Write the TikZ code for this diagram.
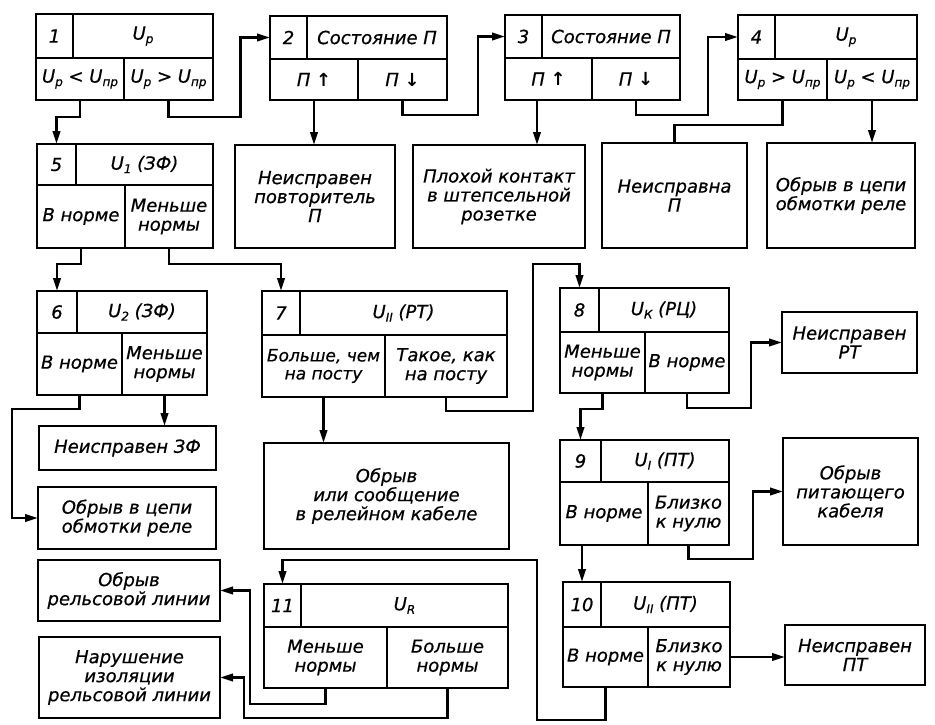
\documentclass[tikz,border=0pt]{standalone}
\usepackage{fontspec}
\setmainfont{DejaVu Sans}[ItalicFeatures={FakeBold=0.6}]
\usetikzlibrary{arrows.meta}
\newcommand\subx[1]{\raisebox{-0.35ex}{\fontsize{12}{12}\selectfont #1}}
\newcommand\uparr{{\bfseries\upshape ↑}}
\newcommand\dnarr{{\bfseries\upshape ↓}}
\newcommand\cellat[6]{\node[cell,minimum width={(#4)-(#2)},minimum height={(#5)-(#3)},anchor=north west] (#1) at (#2,#3) {#6};}
\tikzset{
  cell/.style={draw,line width=2.2pt,inner sep=0pt,outer sep=0pt,align=center,
    font=\itshape\fontsize{18}{19}\selectfont},
  small/.style={font=\itshape\fontsize{17}{18}\selectfont},
  conn/.style={line width=2.4pt},
  arr/.style={conn,-{Triangle[length=13pt,width=7.5pt]}}
}
\begin{document}
\begin{tikzpicture}[x=1pt,y=-1pt]
\useasboundingbox[fill=white] (0,0) rectangle (935,725);
% box 1
\cellat{b1n}{36}{14}{73}{58}{1}
\cellat{b1h}{73}{14}{213}{58}{U\subx{р}}
\cellat{b1l}{36}{58}{124}{100}{U\subx{р} < U\subx{пр}}
\cellat{b1r}{124}{58}{213}{100}{U\subx{р} > U\subx{пр}}
% box 2
\cellat{b2n}{270}{16}{307}{59}{2}
\cellat{b2h}{307}{16}{447}{59}{Состояние П}
\cellat{b2l}{270}{59}{358}{100}{П \uparr}
\cellat{b2r}{358}{59}{447}{100}{П \dnarr}
% box 3
\cellat{b3n}{505}{15}{542}{58}{3}
\cellat{b3h}{542}{15}{680}{58}{Состояние П}
\cellat{b3l}{505}{58}{592}{100}{П \uparr}
\cellat{b3r}{592}{58}{680}{100}{П \dnarr}
% box 4
\cellat{b4n}{738}{15}{775}{59}{4}
\cellat{b4h}{775}{15}{917}{59}{U\subx{р}}
\cellat{b4l}{738}{59}{827}{100}{U\subx{р} > U\subx{пр}}
\cellat{b4r}{827}{59}{917}{100}{U\subx{р} < U\subx{пр}}
% box 5
\cellat{b5n}{37}{144}{76}{185}{5}
\cellat{b5h}{76}{144}{213}{185}{U\subx{1} (ЗФ)}
\cellat{b5l}{37}{185}{125}{248}{В норме}
\cellat{b5r}{125}{185}{213}{248}{Меньше\\нормы}
% box 6
\cellat{b6n}{37}{291}{77}{333}{6}
\cellat{b6h}{77}{291}{207}{333}{U\subx{2} (ЗФ)}
\cellat{b6l}{37}{333}{122}{395}{В норме}
\cellat{b6r}{122}{333}{207}{395}{Меньше\\нормы}
% box 7
\cellat{b7n}{262}{291}{300}{335}{7}
\cellat{b7h}{300}{291}{507}{335}{U\subx{II} (РТ)}
\node[cell,small,minimum width=123,minimum height=62,anchor=north west] (b7l) at (262,335) {Больше, чем\\на посту};
\cellat{b7r}{385}{335}{507}{397}{Такое, как\\на посту}
% box 8
\cellat{b8n}{560}{288}{599}{332}{8}
\cellat{b8h}{599}{288}{729}{332}{U\subx{К} (РЦ)}
\cellat{b8l}{560}{332}{645}{393}{Меньше\\нормы}
\cellat{b8r}{645}{332}{729}{393}{В норме}
% box 9
\cellat{b9n}{560}{440}{601}{482}{9}
\cellat{b9h}{601}{440}{729}{482}{U\subx{I} (ПТ)}
\cellat{b9l}{560}{482}{648}{545}{В норме}
\cellat{b9r}{648}{482}{729}{545}{Близко\\к нулю}
% box 10
\cellat{b10n}{563}{582}{601}{627}{10}
\cellat{b10h}{601}{582}{730}{627}{U\subx{II} (ПТ)}
\cellat{b10l}{563}{627}{648}{687}{В норме}
\cellat{b10r}{648}{627}{730}{687}{Близко\\к нулю}
% box 11
\cellat{b11n}{264}{584}{301}{627}{11}
\cellat{b11h}{301}{584}{508}{627}{U\subx{R}}
\cellat{b11l}{264}{627}{387}{688}{Меньше\\нормы}
\cellat{b11r}{387}{627}{508}{688}{Больше\\нормы}
% result boxes
\cellat{r2}{235}{145}{395}{248}{Неисправен\\повторитель\\П}
\cellat{r3}{413}{145}{585}{248}{Плохой контакт\\в штепсельной\\розетке}
\cellat{r4a}{602}{143}{747}{248}{Неисправна\\П}
\cellat{r4b}{767}{143}{915}{248}{Обрыв в цепи\\обмотки реле}
\cellat{r6a}{39}{426}{216}{470}{Неисправен ЗФ}
\cellat{r6b}{38}{487}{216}{549}{Обрыв в цепи\\обмотки реле}
\cellat{r7}{264}{443}{509}{549}{Обрыв\\или сообщение\\в релейном кабеле}
\cellat{r8}{782}{312}{917}{373}{Неисправен\\РТ}
\cellat{r9}{783}{438}{918}{545}{Обрыв\\питающего\\кабеля}
\cellat{r10}{785}{625}{925}{685}{Неисправен\\ПТ}
\cellat{r11a}{38}{560}{220}{621}{Обрыв\\рельсовой линии}
\cellat{r11b}{39}{637}{220}{718}{Нарушение\\изоляции\\рельсовой линии}
% connectors
\draw[arr] (b1l.south) -- ++(0,17) -| (b5n.north);
\draw[arr] (b1r.south) -- ++(0,17) -- ++(72,0) |- (b2n.west);
\draw[arr] (b2l.south) -- (b2l.south |- r2.north);
\draw[arr] (b2r.south) -- ++(0,15) -- ++(75.5,0) |- (b3n.west);
\draw[arr] ([xshift=-11.5pt]b3l.south) -- ([xshift=-11.5pt]b3l.south |- r3.north);
\draw[arr] (b3r.south) -- ++(0,15) -- ++(72,0) |- (b4n.west);
\draw[conn] (b4l.south) -- ++(0,25) -| (r4a.north);
\draw[arr] (b4r.south) -- (b4r.south |- r4b.north);
\draw[arr] (b5l.south) -- ++(0,16) -| (b6n.north);
\draw[arr] (b5r.south) -- ++(0,16) -| (b7n.north);
\draw[arr] (b6l.south) -- ++(0,14) -| ([xshift=-26pt]r6b.west) -- (r6b.west);
\draw[arr] (b6r.south) -- (b6r.south |- r6a.north);
\draw[arr] (b7l.south) -- (b7l.south |- r7.north);
\draw[arr] (b7r.south) -- ++(0,14) -- ++(87,0) -- ++(0,-147) -| (b8n.north);
\draw[arr] (b8r.south) -- ++(0,15) -- ++(64,0) |- (r8.west);
\draw[arr] (b8l.south) -- ++(0,16) -| (b9n.north);
\draw[arr] (b10n.north |- b9l.south) -- (b10n.north);
\draw[arr] (b9r.south) -- ++(0,14) -- ++(64.5,0) |- (r9.west);
\draw[arr] (b10r.east) -- (b10r.east -| r10.west);
\draw[arr] (b10l.south) -- ++(0,33) -- ++(-68.5,0) -- ++(0,-160) -| (b11n.north);
\draw[arr] (b11l.south) -- ++(0,16) -- ++(-75.5,0) |- (r11a.east);
\draw[arr] (b11r.south) -- ++(0,30) -- ++(-203.5,0) |- (r11b.east);
\end{tikzpicture}
\end{document}
